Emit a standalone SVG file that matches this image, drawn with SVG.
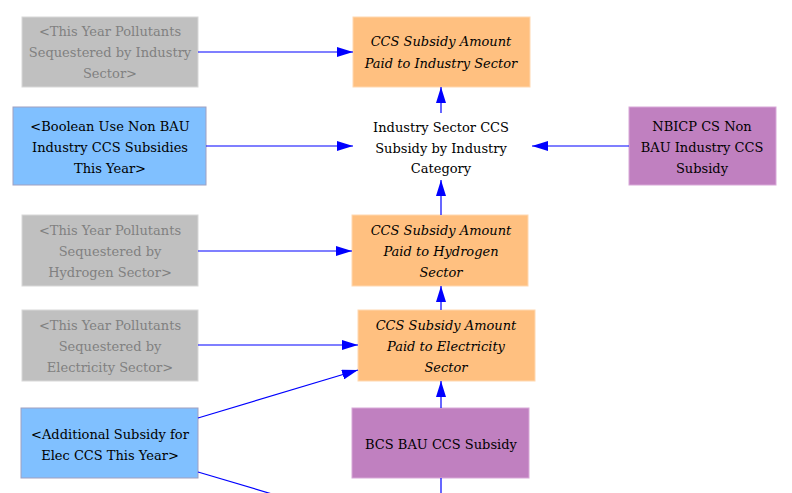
<svg xmlns="http://www.w3.org/2000/svg" width="792" height="493" viewBox="0 0 792 493">
<style>
text{font-family:'DejaVu Serif','Liberation Serif',serif;font-size:13px;text-anchor:middle;fill:#000}
.grey rect{fill:#c0c0c0;stroke:#d8d8d8;stroke-width:1}
.grey text{fill:#808080}
.orange rect{fill:#ffc080;stroke:#ffd8b0;stroke-width:1}
.orange text{font-style:italic}
.blue rect{fill:#80c0ff;stroke:#a0a0c0;stroke-width:1}
.purple rect{fill:#c080c0;stroke:#d8a8d8;stroke-width:1}
.conn line{stroke:#0000ff;stroke-width:1.2;fill:none}
</style>
<defs>
<marker id="ah" viewBox="0 0 16 10" refX="16" refY="5" markerWidth="16" markerHeight="10" markerUnits="userSpaceOnUse" orient="auto">
<path d="M0,0 L16,5 L0,10 Z" fill="#0000ff"/>
</marker>
</defs>
<rect width="792" height="493" fill="#fff"/>
<g id="n_grey_industry" class="grey">
<rect x="22" y="17" width="176" height="70"/>
<text x="110" y="36">&lt;This Year Pollutants</text>
<text x="110" y="57">Sequestered by Industry</text>
<text x="110" y="78">Sector&gt;</text>
</g>
<g id="n_paid_industry" class="orange">
<rect x="353" y="17" width="177" height="70"/>
<text x="441" y="46">CCS Subsidy Amount</text>
<text x="441" y="68">Paid to Industry Sector</text>
</g>
<g id="n_boolean" class="blue">
<rect x="13" y="107" width="193" height="78"/>
<text x="110" y="131">&lt;Boolean Use Non BAU</text>
<text x="110" y="152">Industry CCS Subsidies</text>
<text x="110" y="173">This Year&gt;</text>
</g>
<g id="n_central">
<text x="441" y="132">Industry Sector CCS</text>
<text x="441" y="153">Subsidy by Industry</text>
<text x="441" y="173">Category</text>
</g>
<g id="n_nbicp" class="purple">
<rect x="629" y="107" width="147" height="78"/>
<text x="702" y="131">NBICP CS Non</text>
<text x="702" y="152">BAU Industry CCS</text>
<text x="702" y="173">Subsidy</text>
</g>
<g id="n_grey_hydrogen" class="grey">
<rect x="22" y="215" width="176" height="71"/>
<text x="110" y="235">&lt;This Year Pollutants</text>
<text x="110" y="256">Sequestered by</text>
<text x="110" y="277">Hydrogen Sector&gt;</text>
</g>
<g id="n_paid_hydrogen" class="orange">
<rect x="352" y="215" width="176" height="71"/>
<text x="441" y="235">CCS Subsidy Amount</text>
<text x="441" y="256">Paid to Hydrogen</text>
<text x="441" y="277">Sector</text>
</g>
<g id="n_grey_elec" class="grey">
<rect x="22" y="310" width="176" height="71"/>
<text x="110" y="330">&lt;This Year Pollutants</text>
<text x="110" y="351">Sequestered by</text>
<text x="110" y="372">Electricity Sector&gt;</text>
</g>
<g id="n_paid_elec" class="orange">
<rect x="358" y="310" width="177" height="71"/>
<text x="446" y="330">CCS Subsidy Amount</text>
<text x="446" y="351">Paid to Electricity</text>
<text x="446" y="372">Sector</text>
</g>
<g id="n_additional" class="blue">
<rect x="21" y="408" width="177" height="70"/>
<text x="110" y="439">&lt;Additional Subsidy for</text>
<text x="110" y="460">Elec CCS This Year&gt;</text>
</g>
<g id="n_bcs" class="purple">
<rect x="352" y="408" width="177" height="70"/>
<text x="441" y="449">BCS BAU CCS Subsidy</text>
</g>
<g id="connectors" class="conn">
<line x1="198" y1="52" x2="353" y2="52" marker-end="url(#ah)"/>
<line x1="206" y1="146" x2="353" y2="146" marker-end="url(#ah)"/>
<line x1="629" y1="146" x2="532" y2="146" marker-end="url(#ah)"/>
<line x1="441" y1="113" x2="441" y2="87" marker-end="url(#ah)"/>
<line x1="441" y1="215" x2="441" y2="180" marker-end="url(#ah)"/>
<line x1="198" y1="251" x2="352" y2="251" marker-end="url(#ah)"/>
<line x1="441" y1="310" x2="441" y2="286" marker-end="url(#ah)"/>
<line x1="198" y1="345" x2="358" y2="345" marker-end="url(#ah)"/>
<line x1="198" y1="418" x2="358" y2="370" marker-end="url(#ah)"/>
<line x1="441" y1="408" x2="441" y2="381" marker-end="url(#ah)"/>
<line x1="198" y1="472" x2="272" y2="494"/>
<line x1="441" y1="478" x2="441" y2="494"/>
</g>
</svg>
